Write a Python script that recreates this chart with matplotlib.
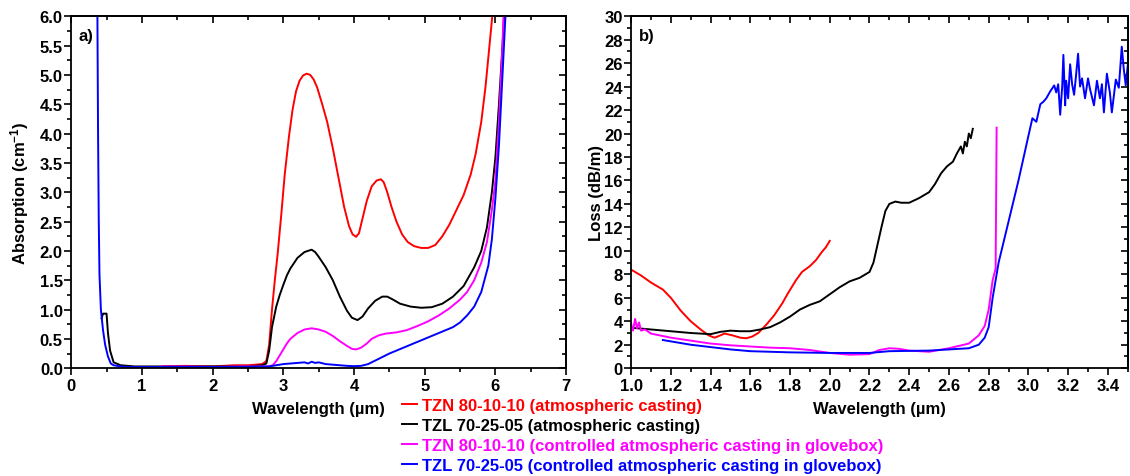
import matplotlib
matplotlib.use("Agg")
import matplotlib.pyplot as plt
from matplotlib.ticker import MultipleLocator, NullFormatter
from matplotlib.lines import Line2D

# ---- panel a) absorption spectra ----
a_red_x = [1.3, 1.6, 2.0, 2.3, 2.5, 2.7, 2.76, 2.8, 2.84, 2.88, 2.92, 2.97, 3.02, 3.08, 3.13, 3.18,
           3.23, 3.28, 3.33, 3.38, 3.43, 3.48, 3.55, 3.62, 3.7, 3.78, 3.86, 3.93, 3.98, 4.03, 4.07,
           4.12, 4.18, 4.25, 4.32, 4.38, 4.42, 4.47, 4.53, 4.6, 4.68, 4.76, 4.85, 4.95, 5.05, 5.15,
           5.25, 5.35, 5.45, 5.55, 5.65, 5.72, 5.8, 5.86, 5.9, 5.94, 5.97]
a_red_y = [0.03, 0.04, 0.03, 0.05, 0.05, 0.07, 0.12, 0.4, 1.0, 1.5, 1.95, 2.6, 3.3, 3.95, 4.4, 4.72,
           4.9, 4.99, 5.02, 5.0, 4.92, 4.78, 4.5, 4.2, 3.75, 3.25, 2.75, 2.42, 2.28, 2.24, 2.3,
           2.55, 2.85, 3.1, 3.2, 3.22, 3.17, 3.0, 2.75, 2.5, 2.28, 2.15, 2.08, 2.05, 2.05, 2.1,
           2.25, 2.45, 2.7, 2.95, 3.3, 3.65, 4.2, 4.8, 5.3, 5.8, 6.2]

a_blk_x = [0.43, 0.45, 0.5, 0.52, 0.55, 0.6, 0.7, 0.9, 1.5, 2.0, 2.5, 2.7, 2.76, 2.8, 2.84, 2.9,
           2.95, 3.0, 3.05, 3.1, 3.2, 3.3, 3.4, 3.45, 3.5, 3.6, 3.7, 3.8, 3.9, 3.97, 4.05, 4.12,
           4.2, 4.3, 4.4, 4.47, 4.55, 4.65, 4.8, 4.95, 5.1, 5.25, 5.4, 5.55, 5.7, 5.8, 5.88, 5.95,
           6.0, 6.05, 6.1, 6.13]
a_blk_y = [0.85, 0.93, 0.93, 0.6, 0.3, 0.1, 0.05, 0.03, 0.03, 0.03, 0.03, 0.05, 0.08, 0.3, 0.7, 1.05,
           1.25, 1.42, 1.58, 1.7, 1.88, 1.98, 2.02, 1.98, 1.9, 1.72, 1.5, 1.22, 0.98, 0.86, 0.82, 0.88,
           1.02, 1.15, 1.22, 1.22, 1.17, 1.1, 1.05, 1.03, 1.04, 1.1, 1.22, 1.4, 1.72, 2.0, 2.4, 3.0,
           3.6, 4.5, 5.5, 6.2]

a_mag_x = [1.28, 1.6, 2.0, 2.4, 2.8, 2.85, 2.9, 2.95, 3.0, 3.05, 3.1, 3.2, 3.3, 3.4, 3.5, 3.6, 3.7,
           3.8, 3.9, 3.97, 4.03, 4.1, 4.18, 4.25, 4.35, 4.45, 4.6, 4.75, 4.9, 5.05, 5.2, 5.35, 5.5,
           5.6, 5.7, 5.8, 5.88, 5.95, 6.0, 6.05, 6.1, 6.12]
a_mag_y = [0.03, 0.03, 0.02, 0.03, 0.03, 0.05, 0.12, 0.22, 0.32, 0.42, 0.5, 0.6, 0.66, 0.68, 0.66,
           0.62, 0.55, 0.46, 0.38, 0.33, 0.32, 0.35, 0.42, 0.5, 0.56, 0.59, 0.61, 0.65, 0.72, 0.8,
           0.9, 1.02, 1.17, 1.3, 1.5, 1.8, 2.15, 2.7, 3.2, 4.2, 5.5, 6.2]

a_blu_x = [0.37, 0.38, 0.39, 0.4, 0.42, 0.45, 0.48, 0.52, 0.56, 0.6, 0.7, 0.8, 1.0, 1.5, 2.0, 2.5,
           2.8, 2.9, 3.0, 3.1, 3.2, 3.3, 3.35, 3.4, 3.45, 3.5, 3.6, 3.7, 3.8, 3.9, 4.0, 4.1, 4.2,
           4.3, 4.4, 4.5, 4.6, 4.7, 4.8, 4.9, 5.0, 5.1, 5.2, 5.3, 5.4, 5.5, 5.6, 5.7, 5.8, 5.9,
           5.95, 6.0, 6.05, 6.1, 6.15]
a_blu_y = [6.2, 4.0, 2.5, 1.6, 1.0, 0.65, 0.4, 0.2, 0.08, 0.05, 0.03, 0.02, 0.02, 0.02, 0.02, 0.02,
           0.03, 0.05, 0.07, 0.08, 0.09, 0.1, 0.08, 0.11, 0.09, 0.1, 0.07, 0.06, 0.05, 0.04, 0.035,
           0.04, 0.07, 0.13, 0.19, 0.25, 0.3, 0.35, 0.4, 0.45, 0.5, 0.55, 0.6, 0.65, 0.7, 0.78, 0.9,
           1.05, 1.3, 1.75, 2.2, 2.9, 3.8, 5.0, 6.2]

# ---- panel b) fibre loss ----
b_red_x = [1.0, 1.05, 1.1, 1.16, 1.2, 1.25, 1.3, 1.35, 1.39, 1.42, 1.45, 1.47, 1.51, 1.55, 1.58,
           1.61, 1.64, 1.68, 1.72, 1.76, 1.79, 1.83, 1.86, 1.9, 1.93, 1.96, 1.98, 2.0]
b_red_y = [8.4, 7.9, 7.3, 6.7, 6.0, 4.9, 4.0, 3.3, 2.8, 2.6, 2.8, 2.95, 2.8, 2.6, 2.55,
           2.7, 3.0, 3.7, 4.5, 5.5, 6.4, 7.5, 8.2, 8.7, 9.2, 9.9, 10.3, 10.85]

b_blk_x = [1.0, 1.1, 1.2, 1.3, 1.4, 1.45, 1.5, 1.55, 1.6, 1.65, 1.7, 1.75, 1.8, 1.85, 1.9, 1.95,
           2.0, 2.05, 2.1, 2.15, 2.2, 2.22, 2.24, 2.26, 2.28, 2.3, 2.33, 2.36, 2.4, 2.45, 2.5,
           2.53, 2.56, 2.59, 2.62, 2.64, 2.66, 2.67, 2.68, 2.69, 2.7, 2.71, 2.72]
b_blk_y = [3.45, 3.3, 3.15, 3.0, 2.9, 3.1, 3.2, 3.15, 3.15, 3.3, 3.5, 3.9, 4.4, 5.0, 5.4, 5.7,
           6.3, 6.9, 7.4, 7.7, 8.2, 9.0, 10.5, 12.0, 13.4, 14.0, 14.2, 14.1, 14.1, 14.5, 15.0,
           15.7, 16.6, 17.2, 17.6, 18.3, 18.9, 18.3, 19.3, 18.9, 20.0, 19.6, 20.4]

b_mag_x = [1.0, 1.01, 1.02, 1.03, 1.04, 1.05, 1.07, 1.1, 1.2, 1.3, 1.4, 1.5, 1.6, 1.7, 1.8, 1.9,
           2.0, 2.1, 2.2, 2.25, 2.3, 2.35, 2.4, 2.5, 2.6, 2.7, 2.75, 2.78, 2.8, 2.82, 2.835, 2.84]
b_mag_y = [3.8, 3.2, 4.2, 3.4, 3.9, 3.2, 3.3, 2.95, 2.6, 2.35, 2.1, 1.95, 1.85, 1.75, 1.7, 1.55,
           1.3, 1.15, 1.2, 1.55, 1.7, 1.65, 1.5, 1.4, 1.7, 2.1, 2.8, 3.6, 5.0, 7.5, 8.5, 20.5]

b_blu_x = [1.16, 1.3, 1.4, 1.5, 1.6, 1.8, 2.0, 2.2, 2.3, 2.5, 2.7, 2.75, 2.78, 2.8, 2.82, 2.85,
           2.9, 2.95, 3.0, 3.02, 3.04, 3.06, 3.075, 3.09, 3.11, 3.13, 3.14, 3.15, 3.16, 3.17,
           3.176, 3.185, 3.19, 3.2, 3.21, 3.22, 3.23, 3.24, 3.25, 3.26, 3.27, 3.285, 3.3, 3.31,
           3.33, 3.345, 3.36, 3.37, 3.38, 3.395, 3.41, 3.42, 3.43, 3.44, 3.455, 3.47, 3.48, 3.49, 3.5]
b_blu_y = [2.4, 2.0, 1.8, 1.6, 1.45, 1.35, 1.3, 1.3, 1.45, 1.5, 1.7, 2.0, 2.6, 3.5, 6.0, 9.0,
           12.5, 16.0, 19.8, 21.3, 21.0, 22.5, 22.7, 23.0, 23.6, 24.1, 23.5, 24.2, 21.6, 24.0,
           26.7, 22.4, 24.5, 23.0, 25.9, 24.2, 23.3, 25.0, 26.8, 24.0, 24.7, 23.0, 24.7, 23.8,
           22.4, 24.5, 23.0, 24.2, 21.8, 25.1, 23.5, 21.8, 23.2, 24.6, 23.9, 27.4, 25.5, 24.1, 25.8]

labels = ["TZN 80-10-10 (atmospheric casting)",
          "TZL 70-25-05 (atmospheric casting)",
          "TZN 80-10-10 (controlled atmospheric casting in glovebox)",
          "TZL 70-25-05 (controlled atmospheric casting in glovebox)"]
colors = ["#ff0000", "#000000", "#ff00ff", "#0000ff"]

plt.rcParams["font.family"] = ["Liberation Sans", "DejaVu Sans"]
plt.rcParams["font.weight"] = "bold"
plt.rcParams["axes.labelweight"] = "bold"
plt.rcParams["mathtext.fontset"] = "custom"
plt.rcParams["mathtext.rm"] = "Liberation Sans:bold"
plt.rcParams["mathtext.it"] = "Liberation Sans:bold"
plt.rcParams["mathtext.bf"] = "Liberation Sans:bold"

fs = 12
fig = plt.figure(figsize=(11.3, 4.77), dpi=100)
ax1 = fig.add_axes([0.063, 0.226, 0.438, 0.738])
ax2 = fig.add_axes([0.5585, 0.226, 0.4395, 0.738])

lw = 1.4
ax1.plot(a_red_x, a_red_y, color=colors[0], lw=lw)
ax1.plot(a_blk_x, a_blk_y, color=colors[1], lw=lw)
ax1.plot(a_mag_x, a_mag_y, color=colors[2], lw=lw)
ax1.plot(a_blu_x, a_blu_y, color=colors[3], lw=lw)

ax2.plot(b_red_x, b_red_y, color=colors[0], lw=lw)
ax2.plot(b_blk_x, b_blk_y, color=colors[1], lw=lw)
ax2.plot(b_mag_x, b_mag_y, color=colors[2], lw=lw)
ax2.plot(b_blu_x, b_blu_y, color=colors[3], lw=lw)

ax1.set_xlim(0, 7)
ax1.set_ylim(0, 6)
ax1.yaxis.set_major_formatter(lambda v, p: f"{v:.1f}")
ax1.set_ylabel("Absorption (cm$^{-1}$)", fontsize=fs, labelpad=6)
ax1.set_xlabel("Wavelength (µm)", fontsize=fs, labelpad=6)
ax1.text(0.015, 0.965, "a)", transform=ax1.transAxes, fontsize=fs, va="top")

ax2.set_xlim(1.0, 3.5)
ax2.set_ylim(0, 30)
ax2.xaxis.set_major_formatter(lambda v, p: f"{v:.1f}")
ax2.set_ylabel("Loss (dB/m)", fontsize=fs, labelpad=0)
ax2.set_xlabel("Wavelength (µm)", fontsize=fs, labelpad=6)
ax2.text(0.015, 0.965, "b)", transform=ax2.transAxes, fontsize=fs, va="top")

steps = {ax1: (1, 0.5, 0.5, 0.25), ax2: (0.2, 0.1, 2, 1)}
ident = (lambda v: v, lambda v: v)
for ax, (xm, xn, ym, yn) in steps.items():
    ax.xaxis.set_major_locator(MultipleLocator(xm))
    ax.xaxis.set_minor_locator(MultipleLocator(xn))
    ax.yaxis.set_major_locator(MultipleLocator(ym))
    ax.yaxis.set_minor_locator(MultipleLocator(yn))
    ax.tick_params(which="both", direction="out", labelsize=fs, width=1.2)
    ax.tick_params(which="major", length=5)
    ax.tick_params(which="minor", length=3)
    ax.tick_params(axis="x", which="major", pad=2)
    ax.tick_params(axis="y", which="major", pad=1)
    for s in ax.spines.values():
        s.set_linewidth(1.3)
    # top and right ticks point into the plot
    top = ax.secondary_xaxis("top", functions=ident)
    right = ax.secondary_yaxis("right", functions=ident)
    top.xaxis.set_major_locator(MultipleLocator(xm))
    top.xaxis.set_minor_locator(MultipleLocator(xn))
    right.yaxis.set_major_locator(MultipleLocator(ym))
    right.yaxis.set_minor_locator(MultipleLocator(yn))
    for sec in (top, right):
        sec.tick_params(which="both", direction="in", width=1.2)
        sec.tick_params(which="major", length=5)
        sec.tick_params(which="minor", length=3)
        sec.xaxis.set_major_formatter(NullFormatter())
        sec.yaxis.set_major_formatter(NullFormatter())
        for s in sec.spines.values():
            s.set_linewidth(1.3)

handles = [Line2D([], [], color=c, lw=1.4) for c in colors]
leg = fig.legend(handles, labels, loc="upper left", bbox_to_anchor=(0.356, 0.163),
                 frameon=False, fontsize=fs, handlelength=0.9, handletextpad=0.3,
                 labelspacing=0.3, borderaxespad=0, borderpad=0)
for t, c in zip(leg.get_texts(), colors):
    t.set_color(c)

fig.savefig("out.png", dpi=100)
